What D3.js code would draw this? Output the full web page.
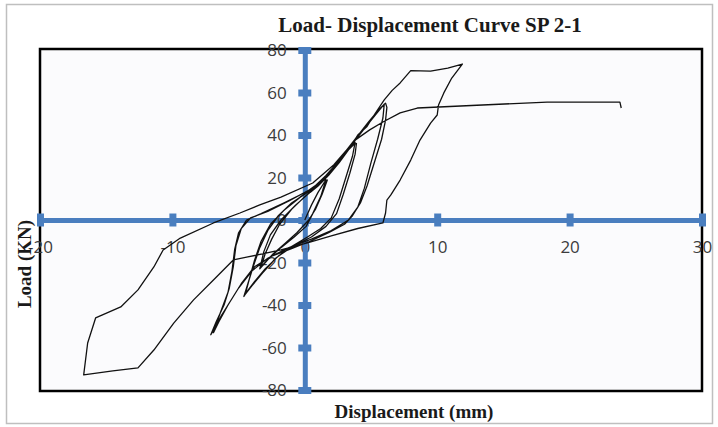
<!DOCTYPE html>
<html>
<head>
<meta charset="utf-8">
<script src="https://cdn.jsdelivr.net/npm/d3@7"></script>
<style>
  body { margin: 0; background: #ffffff; }
  text { font-family: "Open Sans", "Liberation Sans", sans-serif; }
</style>
</head>
<body>
<svg id="chart" width="718" height="427"></svg>
<script>
// Tick values for both axes
const xTicks = [-20, -10, 0, 10, 20, 30];
const yTicks = [-80, -60, -40, -20, 0, 20, 40, 60, 80];

// Load history as [displacement (mm), load (kN)] pairs, in test order
const cycleSmall = [
  [0, 0], [0.5, 7], [1.0, 13], [1.5, 18], [1.7, 18.8], [1.3, 12], [0.8, 5], [0.3, 0],
  [-0.6, -6], [-1.5, -11], [-2.4, -16], [-3.0, -20], [-3.3, -22], [-3.0, -16], [-2.5, -9],
  [-1.9, -2], [-1.0, 5], [0.0, 11], [0.9, 16], [1.4, 18.5], [1.6, 19], [1.2, 11], [0.6, 3],
  [0.1, -3], [-0.8, -8], [-1.8, -13], [-2.7, -18], [-3.4, -23], [-3.1, -15], [-2.6, -7],
  [-1.8, 0], [-0.7, 7], [0.4, 13], [1.0, 16]
];
const cycleMedium = [
  [1.8, 21], [2.6, 27], [3.3, 33], [3.7, 35.5], [3.9, 36], [3.8, 31], [3.4, 22], [2.9, 12],
  [2.4, 3], [1.6, -3], [0.5, -8], [-0.8, -12], [-2.0, -17], [-3.0, -23], [-3.8, -29],
  [-4.4, -34], [-4.6, -36], [-4.3, -30], [-3.9, -22], [-3.4, -13], [-2.8, -5], [-2.0, 2],
  [-1.0, 8], [0.2, 13], [1.0, 17], [1.9, 22], [2.8, 29], [3.4, 34], [3.8, 36.5], [3.6, 30],
  [3.1, 20], [2.6, 10], [2.0, 1], [1.2, -4], [0.2, -8], [-1.0, -12.5], [-2.2, -18],
  [-3.2, -25], [-4.0, -31], [-4.5, -35], [-4.2, -28], [-3.8, -19], [-3.3, -10], [-2.6, -2],
  [-1.5, 5], [-0.3, 11], [0.8, 16]
];
const cycleLarge = [
  [1.8, 22], [2.8, 30], [3.8, 38], [4.8, 46], [5.6, 52], [6.1, 55], [6.2, 53], [6.1, 47],
  [5.8, 38], [5.3, 28], [4.7, 16], [4.2, 8], [3.6, 2], [3.0, -2], [1.8, -6], [0.4, -10],
  [-1.0, -13.5], [-2.5, -17], [-3.8, -22], [-4.8, -30], [-5.6, -38], [-6.3, -45],
  [-6.9, -52], [-7.1, -54], [-6.7, -48], [-6.1, -40], [-5.7, -32], [-5.4, -22], [-5.2, -12],
  [-4.8, -4], [-4.1, 1], [-2.8, 4], [-1.2, 9], [0.3, 14], [1.2, 18], [2.4, 26], [3.5, 35],
  [4.5, 43], [5.4, 50], [6.0, 54.5], [5.9, 48], [5.5, 38], [5.0, 27], [4.5, 15], [4.0, 6],
  [3.3, 0], [2.0, -5], [0.5, -9], [-1.2, -13], [-2.8, -18], [-4.0, -24], [-5.0, -32],
  [-5.8, -40], [-6.5, -48], [-6.9, -53], [-6.4, -44], [-5.8, -34], [-5.5, -24], [-5.3, -14],
  [-5.0, -6], [-4.4, 0], [-3.3, 3], [-1.6, 8], [-0.3, 12]
];
const cycleUltimate = [
  [0.6, 15], [1.6, 21], [2.6, 28], [3.4, 34], [4.0, 40], [4.7, 44], [5.3, 50], [6.0, 56.5],
  [6.6, 61], [7.2, 64.5], [8.0, 70.3], [9.5, 70.1], [10.8, 71.5], [11.9, 73.4],
  [11.1, 66.8], [10.5, 59.8], [10.1, 54.1], [10.0, 49.4], [9.5, 45.6], [8.7, 37.6],
  [8.0, 28.2], [7.2, 18.8], [6.5, 11.8], [6.2, 9.4], [6.1, 3.3], [5.9, -1.4], [4.0, -4],
  [2.0, -7.5], [0.2, -10.8], [-1.8, -14.1], [-4.3, -17.4], [-5.4, -18.8], [-6.9, -28.2],
  [-8.4, -37.6], [-9.9, -48.5], [-11.4, -61.2], [-12.6, -69.6], [-14.5, -71], [-16.7, -72.9],
  [-16.4, -57.9], [-15.8, -46.1], [-13.9, -40.9], [-12.6, -32.9], [-11.4, -22.1],
  [-10.7, -14.1], [-9.4, -8.5], [-6.9, -1.4], [-4.9, 3.3], [-3.4, 7.1], [-1.8, 10.8], [0.6, 17.4]
];
const pushover = [
  [2.2, 26], [3.8, 37.6], [4.9, 42.4], [5.9, 46.1], [7.2, 50.4], [8.5, 52.7], [13, 54],
  [18.3, 55.5], [23.8, 55.5], [23.9, 52.7]
];

const history = [].concat(cycleSmall, cycleMedium, cycleLarge, cycleUltimate, pushover);

const svg = d3.select("#chart");
const x = d3.scaleLinear().domain([-20, 30]).range([40, 702]);
const y = d3.scaleLinear().domain([-80, 80]).range([390, 50]);

const axisBlue = "#4a7ebf";
const labelColor = "#3c3c3c";
const plainNumber = d => String(d);

// Chart border and plot frame
svg.append("rect")
  .attr("x", 6.5).attr("y", 4.5).attr("width", 706).attr("height", 419)
  .attr("fill", "#ffffff").attr("stroke", "#bfbfbf").attr("stroke-width", 1.5);

svg.append("rect")
  .attr("x", x(-20)).attr("y", y(80) - 1).attr("width", x(30) - x(-20)).attr("height", y(-80) - y(80) + 2)
  .attr("fill", "#fbfbfd").attr("stroke", "#000").attr("stroke-width", 2.5);

// Horizontal axis through load = 0
const gx = svg.append("g")
  .attr("transform", `translate(0,${y(0)})`)
  .call(d3.axisBottom(x).tickValues(xTicks).tickSizeOuter(0).tickFormat(plainNumber));
gx.select(".domain").attr("stroke", axisBlue).attr("stroke-width", 5);
gx.selectAll(".tick line").attr("stroke", axisBlue).attr("stroke-width", 7)
  .attr("y1", -6.5).attr("y2", 6.5);
gx.selectAll(".tick text").attr("y", 27).attr("dy", "0.35em")
  .attr("fill", labelColor).style("font-size", "17px")
  .style("font-family", "'Open Sans', 'Liberation Sans', sans-serif");

// Vertical axis through displacement = 0
const gy = svg.append("g")
  .attr("transform", `translate(${x(0)},0)`)
  .call(d3.axisLeft(y).tickValues(yTicks).tickSizeOuter(0).tickFormat(plainNumber));
gy.select(".domain").attr("stroke", axisBlue).attr("stroke-width", 5);
gy.selectAll(".tick line").attr("stroke", axisBlue).attr("stroke-width", 7)
  .attr("x1", -6.5).attr("x2", 6.5);
gy.selectAll(".tick text").attr("x", -18).attr("dy", "0.35em")
  .attr("fill", labelColor).style("font-size", "17px")
  .style("font-family", "'Open Sans', 'Liberation Sans', sans-serif");

// Hysteresis curve
const line = d3.line().x(d => x(d[0])).y(d => y(d[1]));
svg.append("path")
  .datum(history)
  .attr("d", line)
  .attr("fill", "none")
  .attr("stroke", "#111")
  .attr("stroke-width", 1.3)
  .attr("stroke-linejoin", "round");

// Titles
const serif = "'Liberation Serif', 'DejaVu Serif', serif";
svg.append("text")
  .attr("x", 430).attr("y", 32).attr("text-anchor", "middle")
  .style("font-family", serif).style("font-weight", "bold").style("font-size", "21px")
  .attr("fill", "#1a1a1a")
  .text("Load- Displacement Curve SP 2-1");

svg.append("text")
  .attr("x", 414).attr("y", 418).attr("text-anchor", "middle")
  .style("font-family", serif).style("font-weight", "bold").style("font-size", "19px")
  .attr("fill", "#1a1a1a")
  .text("Displacement (mm)");

svg.append("text")
  .attr("transform", "translate(31,264) rotate(-90)").attr("text-anchor", "middle")
  .style("font-family", serif).style("font-weight", "bold").style("font-size", "19px")
  .attr("fill", "#1a1a1a")
  .text("Load (KN)");
</script>
</body>
</html>
